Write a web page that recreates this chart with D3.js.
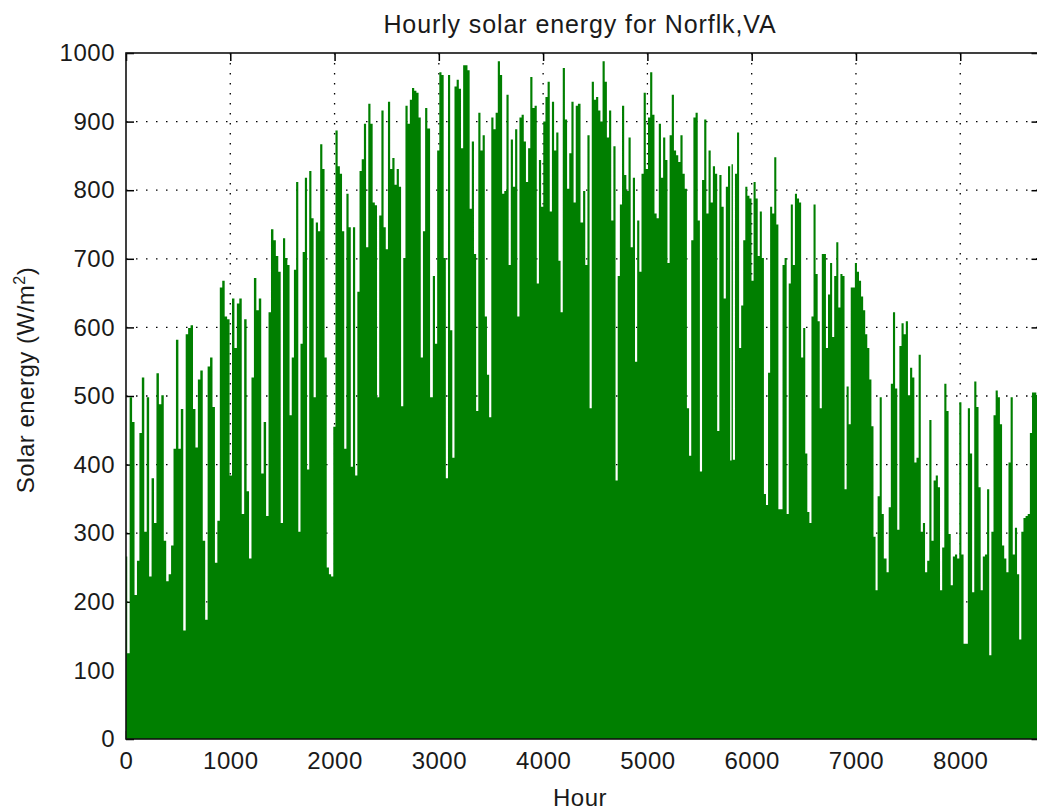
<!DOCTYPE html>
<html>
<head>
<meta charset="utf-8">
<script src="https://cdn.jsdelivr.net/npm/d3@7"></script>
<style>
  body { margin: 0; background: #fff; }
  svg { display: block; }
  text { font-family: "Liberation Sans", Arial, sans-serif; fill: #1a1a1a; }
</style>
</head>
<body>
<div id="chart"></div>
<script>
// Daily peak of hourly solar energy (W/m^2) in six stretches of the year.
// Each stretch: first hour, last hour, and the peaks in order.
var stretchHours = [[0, 1472], [1495, 2900], [2932, 4344], [4373, 5804], [5810, 7277], [7283, 8760]];

var peaksA = [266,125,498,462,210,260,446,527,302,498,237,380,315,533,488,501,289,230,240,282,
  423,582,423,481,158,590,599,603,481,425,524,537,289,174,543,556,484,257,318,658,
  668,616,612,384,642,570,635,642,328,612,361,263,527,672,625,642,387,462,325,622,
  743,727,704,681];
var peaksB = [315,730,701,691,472,556,684,812,302,576,710,818,393,828,759,498,753,740,867,831,
  556,250,240,237,455,887,835,824,740,423,795,746,397,746,384,652,828,845,897,717,
  926,897,782,778,498,763,916,746,714,929,831,847,808,831,805,485,701,923,897,932,
  949,945,942,906,556,740,920,890];
var peaksC = [498,675,576,858,972,968,701,380,968,596,410,951,961,948,861,982,982,975,773,871,
  707,478,913,858,880,616,531,469,906,889,913,988,968,795,799,939,691,874,805,889,
  616,906,910,871,812,861,965,920,923,664,844,776,900,936,958,769,929,858,884,697,
  622,978,903,802,854,929,782,923,926];
var peaksD = [753,799,691,880,482,958,932,936,916,900,988,958,877,916,756,864,377,675,779,923,
  822,799,877,717,818,550,756,681,824,942,831,906,972,910,766,759,897,818,877,844,
  694,880,939,858,851,841,880,824,802,482,413,727,906,913,756,390,815,903,766,858,
  782,835,824,449,822,776,642,805,835,406];
var peaksE = [838,407,824,884,570,632,727,805,792,788,668,812,788,704,769,701,357,341,534,776,
  766,848,750,335,335,691,701,328,664,779,691,795,788,782,556,599,416,331,315,616,
  779,678,609,482,707,707,570,648,694,586,675,724,629,678,675,364,514,459,658,658,
  694,681,668,645,625,590,570,524,456,295,217,354,498,328,263];
var peaksF = [263,243,338,518,622,511,305,573,606,590,609,501,541,527,403,410,560,302,315,243,
  260,465,289,377,384,367,217,279,518,478,299,224,266,269,263,491,269,139,139,482,
  416,214,521,484,367,217,266,269,364,122,302,472,508,498,459,282,263,243,403,498,
  269,308,240,145,302,322,325,328,446,505,505,501,498];

var xTicks = [0, 1000, 2000, 3000, 4000, 5000, 6000, 7000, 8000];
var yTicks = [0, 100, 200, 300, 400, 500, 600, 700, 800, 900, 1000];

var chartTitle = "Hourly solar energy for Norflk,VA";
var xTitle = "Hour";

// spread each stretch's peaks over its hours
var allPeaks = [peaksA, peaksB, peaksC, peaksD, peaksE, peaksF];
var data = [];
allPeaks.forEach(function(vals, s) {
  var h0 = stretchHours[s][0], h1 = stretchHours[s][1];
  vals.forEach(function(v, i) {
    data.push({ hour: h0 + (h1 - h0) * i / (vals.length - 1), value: v });
  });
});

var W = 1037, H = 811;
var margin = { top: 53, left: 126, bottom: 72 };
var plotRight = 1039.5;   // right edge of the axes sits just outside the picture
var height = H - margin.top - margin.bottom;
var width = plotRight - margin.left;

var svg = d3.select("#chart").append("svg")
  .attr("width", W).attr("height", H);

var g = svg.append("g")
  .attr("transform", "translate(" + margin.left + "," + margin.top + ")");

var x = d3.scaleLinear().domain([0, 8760]).range([0, width]);
var y = d3.scaleLinear().domain([0, 1000]).range([height, 0]);
var fmt = d3.format("d");

// dotted grid
g.append("g")
  .selectAll("line.vg")
  .data(xTicks.slice(1))
  .enter().append("line")
  .attr("x1", d => x(d)).attr("x2", d => x(d))
  .attr("y1", 0).attr("y2", height)
  .attr("stroke", "#000").attr("stroke-width", 1.3)
  .attr("stroke-dasharray", "1.5 8.5");
g.append("g")
  .selectAll("line.hg")
  .data(yTicks.slice(1, -1))
  .enter().append("line")
  .attr("x1", 0).attr("x2", width)
  .attr("y1", d => y(d)).attr("y2", d => y(d))
  .attr("stroke", "#000").attr("stroke-width", 1.3)
  .attr("stroke-dasharray", "1.5 8.5");

// inward ticks on all four sides
var xb = g.append("g").attr("transform", "translate(0," + height + ")")
  .call(d3.axisBottom(x).tickValues(xTicks).tickFormat(fmt).tickSize(-8).tickPadding(13));
var yl = g.append("g")
  .call(d3.axisLeft(y).tickValues(yTicks).tickFormat(fmt).tickSize(-8).tickPadding(11));
g.append("g")
  .call(d3.axisTop(x).tickValues(xTicks).tickSize(-8).tickFormat(""));
g.append("g").attr("transform", "translate(" + width + ",0)")
  .call(d3.axisRight(y).tickValues(yTicks).tickSize(-8).tickFormat(""));

g.selectAll(".domain").remove();
g.selectAll(".tick line").attr("stroke", "#000").attr("stroke-width", 1.5);
[xb, yl].forEach(function(a) {
  a.selectAll("text")
    .style("font-size", "24px")
    .style("letter-spacing", "0.5px")
    .attr("fill", "#1a1a1a");
});

// the energy trace
var area = d3.area()
  .curve(d3.curveStep)
  .x(d => x(d.hour))
  .y0(y(0))
  .y1(d => y(d.value));

g.append("path")
  .datum(data)
  .attr("d", area)
  .attr("fill", "#007f00");

// axes box
g.append("rect")
  .attr("x", 0).attr("y", 0)
  .attr("width", width).attr("height", height)
  .attr("fill", "none").attr("stroke", "#111").attr("stroke-width", 1.6);

// titles
svg.append("text")
  .attr("x", 580).attr("y", 33)
  .attr("text-anchor", "middle")
  .style("font-size", "25px").style("letter-spacing", "0.9px")
  .text(chartTitle);

svg.append("text")
  .attr("x", 580).attr("y", 806)
  .attr("text-anchor", "middle")
  .style("font-size", "24px").style("letter-spacing", "0.5px")
  .text(xTitle);

var yt = svg.append("text")
  .attr("transform", "translate(34,380) rotate(-90)")
  .attr("text-anchor", "middle")
  .style("font-size", "24px").style("letter-spacing", "0.5px");
yt.append("tspan").text("Solar energy (W/m");
yt.append("tspan").attr("dy", -9).style("font-size", "16px").text("2");
yt.append("tspan").attr("dy", 9).text(")");
</script>
</body>
</html>
